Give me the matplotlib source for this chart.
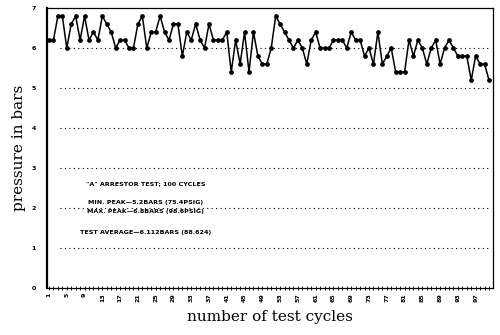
import matplotlib
matplotlib.use("Agg")
import matplotlib.pyplot as plt
from matplotlib.ticker import MultipleLocator

# pressure peak per test cycle (bars)
cycles = list(range(1, 101))
pressure = [
    6.2, 6.2, 6.8, 6.8, 6.0, 6.6, 6.8, 6.2, 6.8, 6.2,
    6.4, 6.2, 6.8, 6.6, 6.4, 6.0, 6.2, 6.2, 6.0, 6.0,
    6.6, 6.8, 6.0, 6.4, 6.4, 6.8, 6.4, 6.2, 6.6, 6.6,
    5.8, 6.4, 6.2, 6.6, 6.2, 6.0, 6.6, 6.2, 6.2, 6.2,
    6.4, 5.4, 6.2, 5.6, 6.4, 5.4, 6.4, 5.8, 5.6, 5.6,
    6.0, 6.8, 6.6, 6.4, 6.2, 6.0, 6.2, 6.0, 5.6, 6.2,
    6.4, 6.0, 6.0, 6.0, 6.2, 6.2, 6.2, 6.0, 6.4, 6.2,
    6.2, 5.8, 6.0, 5.6, 6.4, 5.6, 5.8, 6.0, 5.4, 5.4,
    5.4, 6.2, 5.8, 6.2, 6.0, 5.6, 6.0, 6.2, 5.6, 6.0,
    6.2, 6.0, 5.8, 5.8, 5.8, 5.2, 5.8, 5.6, 5.6, 5.2,
]
xtick_labels = list(range(1, 101, 4))
ytick_labels = list(range(0, 8))
notes = [
    '"A" ARRESTOR TEST; 100 CYCLES',
    'MIN. PEAK\u20145.2BARS (75.4PSIG)',
    'MAX. PEAK\u20146.8BARS (98.6PSIG)',
    'TEST AVERAGE\u20146.112BARS (88.624)',
]
note_y = [2.62, 2.15, 1.91, 1.40]

fig = plt.figure(figsize=(5, 3.35), dpi=100)
ax = fig.add_axes([0.094, 0.140, 0.892, 0.836])

for g in range(1, 7):
    ax.axhline(g, xmin=0.03, xmax=0.995, color="black",
               linestyle=(0, (1, 3)), linewidth=0.8, zorder=1)

ax.plot(cycles, pressure, color="black", linewidth=1.1,
        marker="o", markersize=2.4, zorder=3)

ax.set_xlim(0.55, 100.9)
ax.set_ylim(0, 7)

ax.set_xticks(xtick_labels)
ax.set_xticklabels([str(v) for v in xtick_labels], rotation=90,
                   fontsize=4.5, fontweight="bold")
ax.xaxis.set_minor_locator(MultipleLocator(1))
ax.tick_params(axis="x", which="both", direction="inout", length=3, width=0.6, pad=2)
ax.set_yticks(ytick_labels)
ax.set_yticklabels([str(v) for v in ytick_labels], fontsize=4.5, fontweight="bold")
ax.tick_params(axis="y", length=0, pad=8)

for s in ax.spines.values():
    s.set_linewidth(0.9)
ax.spines["left"].set_linewidth(1.6)

ax.set_ylabel("pressure in bars", family="DejaVu Serif", fontsize=11, labelpad=4)
ax.set_xlabel("number of test cycles", family="DejaVu Serif", fontsize=11, labelpad=6)

for txt, yy in zip(notes, note_y):
    ax.text(22.8, yy, txt, ha="center", va="center", fontsize=4.6,
            fontweight="bold")

fig.savefig("out.png", dpi=100)
